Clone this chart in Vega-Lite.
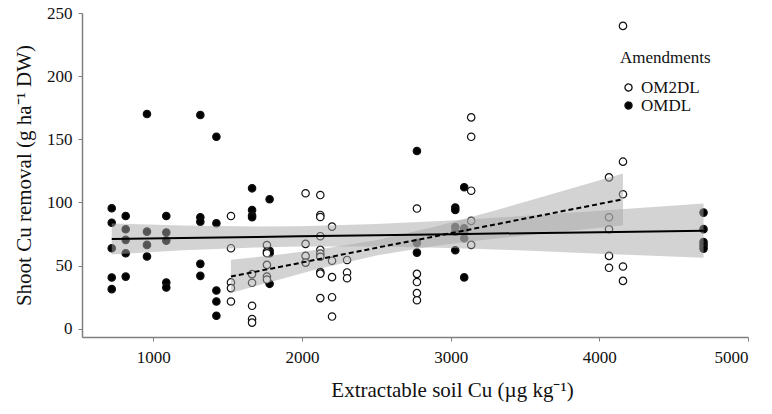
{
  "$schema": "https://vega.github.io/schema/vega-lite/v6.json",
  "width": 666,
  "height": 324,
  "autosize": {"type": "none"},
  "padding": {"left": 82, "top": 13, "right": 24, "bottom": 77},
  "background": "white",
  "config": {
    "view": {"stroke": null},
    "font": "Liberation Serif",
    "axis": {
      "grid": false,
      "domainColor": "#7f7f7f",
      "domainWidth": 1.5,
      "tickColor": "#7f7f7f",
      "tickSize": 4,
      "labelFont": "Liberation Serif",
      "labelFontSize": 17,
      "labelColor": "#111111",
      "titleFont": "Liberation Serif",
      "titleFontSize": 21,
      "titleFontWeight": "normal",
      "titleColor": "#111111"
    },
    "legend": {
      "titleFont": "Liberation Serif",
      "labelFont": "Liberation Serif",
      "titleFontSize": 17,
      "titleFontWeight": "normal",
      "labelFontSize": 17,
      "titleColor": "#111111",
      "labelColor": "#111111"
    }
  },
  "datasets": {
    "points": [
      {"Amendments": "OMDL", "cu": 720, "removal": 95.4},
      {"Amendments": "OMDL", "cu": 720, "removal": 84.0},
      {"Amendments": "OMDL", "cu": 720, "removal": 63.8},
      {"Amendments": "OMDL", "cu": 720, "removal": 40.6},
      {"Amendments": "OMDL", "cu": 720, "removal": 31.4},
      {"Amendments": "OMDL", "cu": 814, "removal": 89.3},
      {"Amendments": "OMDL", "cu": 814, "removal": 78.8},
      {"Amendments": "OMDL", "cu": 814, "removal": 70.4},
      {"Amendments": "OMDL", "cu": 814, "removal": 59.8},
      {"Amendments": "OMDL", "cu": 814, "removal": 41.3},
      {"Amendments": "OMDL", "cu": 957, "removal": 170.0},
      {"Amendments": "OMDL", "cu": 957, "removal": 76.9},
      {"Amendments": "OMDL", "cu": 957, "removal": 66.4},
      {"Amendments": "OMDL", "cu": 957, "removal": 57.2},
      {"Amendments": "OMDL", "cu": 1087, "removal": 89.3},
      {"Amendments": "OMDL", "cu": 1087, "removal": 76.2},
      {"Amendments": "OMDL", "cu": 1087, "removal": 69.8},
      {"Amendments": "OMDL", "cu": 1087, "removal": 36.6},
      {"Amendments": "OMDL", "cu": 1087, "removal": 32.7},
      {"Amendments": "OMDL", "cu": 1316, "removal": 169.2},
      {"Amendments": "OMDL", "cu": 1316, "removal": 88.3},
      {"Amendments": "OMDL", "cu": 1316, "removal": 84.8},
      {"Amendments": "OMDL", "cu": 1316, "removal": 51.4},
      {"Amendments": "OMDL", "cu": 1316, "removal": 41.9},
      {"Amendments": "OMDL", "cu": 1424, "removal": 152.0},
      {"Amendments": "OMDL", "cu": 1424, "removal": 83.5},
      {"Amendments": "OMDL", "cu": 1424, "removal": 30.3},
      {"Amendments": "OMDL", "cu": 1424, "removal": 21.6},
      {"Amendments": "OMDL", "cu": 1424, "removal": 10.3},
      {"Amendments": "OMDL", "cu": 1664, "removal": 111.2},
      {"Amendments": "OMDL", "cu": 1664, "removal": 94.0},
      {"Amendments": "OMDL", "cu": 1664, "removal": 89.6},
      {"Amendments": "OMDL", "cu": 1664, "removal": 88.3},
      {"Amendments": "OMDL", "cu": 1782, "removal": 102.5},
      {"Amendments": "OMDL", "cu": 1782, "removal": 61.7},
      {"Amendments": "OMDL", "cu": 1782, "removal": 59.8},
      {"Amendments": "OMDL", "cu": 1782, "removal": 35.6},
      {"Amendments": "OMDL", "cu": 2773, "removal": 140.7},
      {"Amendments": "OMDL", "cu": 2773, "removal": 68.0},
      {"Amendments": "OMDL", "cu": 2773, "removal": 60.3},
      {"Amendments": "OMDL", "cu": 3031, "removal": 96.0},
      {"Amendments": "OMDL", "cu": 3031, "removal": 94.0},
      {"Amendments": "OMDL", "cu": 3031, "removal": 80.6},
      {"Amendments": "OMDL", "cu": 3031, "removal": 76.9},
      {"Amendments": "OMDL", "cu": 3031, "removal": 62.2},
      {"Amendments": "OMDL", "cu": 3091, "removal": 112.0},
      {"Amendments": "OMDL", "cu": 3091, "removal": 79.6},
      {"Amendments": "OMDL", "cu": 3091, "removal": 77.0},
      {"Amendments": "OMDL", "cu": 3091, "removal": 71.7},
      {"Amendments": "OMDL", "cu": 3091, "removal": 40.7},
      {"Amendments": "OMDL", "cu": 4701, "removal": 92.0},
      {"Amendments": "OMDL", "cu": 4701, "removal": 78.9},
      {"Amendments": "OMDL", "cu": 4701, "removal": 68.6},
      {"Amendments": "OMDL", "cu": 4701, "removal": 66.0},
      {"Amendments": "OMDL", "cu": 4701, "removal": 63.5},
      {"Amendments": "OM2DL", "cu": 1522, "removal": 89.3},
      {"Amendments": "OM2DL", "cu": 1522, "removal": 63.8},
      {"Amendments": "OM2DL", "cu": 1522, "removal": 36.7},
      {"Amendments": "OM2DL", "cu": 1522, "removal": 32.2},
      {"Amendments": "OM2DL", "cu": 1522, "removal": 21.6},
      {"Amendments": "OM2DL", "cu": 1664, "removal": 43.3},
      {"Amendments": "OM2DL", "cu": 1664, "removal": 36.4},
      {"Amendments": "OM2DL", "cu": 1664, "removal": 18.2},
      {"Amendments": "OM2DL", "cu": 1664, "removal": 7.7},
      {"Amendments": "OM2DL", "cu": 1664, "removal": 4.9},
      {"Amendments": "OM2DL", "cu": 1764, "removal": 66.3},
      {"Amendments": "OM2DL", "cu": 1764, "removal": 61.1},
      {"Amendments": "OM2DL", "cu": 1764, "removal": 59.8},
      {"Amendments": "OM2DL", "cu": 1764, "removal": 50.6},
      {"Amendments": "OM2DL", "cu": 1764, "removal": 41.4},
      {"Amendments": "OM2DL", "cu": 1764, "removal": 39.0},
      {"Amendments": "OM2DL", "cu": 2024, "removal": 107.3},
      {"Amendments": "OM2DL", "cu": 2024, "removal": 67.2},
      {"Amendments": "OM2DL", "cu": 2024, "removal": 57.7},
      {"Amendments": "OM2DL", "cu": 2024, "removal": 52.4},
      {"Amendments": "OM2DL", "cu": 2123, "removal": 105.9},
      {"Amendments": "OM2DL", "cu": 2123, "removal": 90.1},
      {"Amendments": "OM2DL", "cu": 2123, "removal": 88.5},
      {"Amendments": "OM2DL", "cu": 2123, "removal": 73.3},
      {"Amendments": "OM2DL", "cu": 2123, "removal": 62.5},
      {"Amendments": "OM2DL", "cu": 2123, "removal": 59.5},
      {"Amendments": "OM2DL", "cu": 2123, "removal": 57.0},
      {"Amendments": "OM2DL", "cu": 2123, "removal": 44.9},
      {"Amendments": "OM2DL", "cu": 2123, "removal": 43.7},
      {"Amendments": "OM2DL", "cu": 2123, "removal": 24.3},
      {"Amendments": "OM2DL", "cu": 2202, "removal": 80.9},
      {"Amendments": "OM2DL", "cu": 2202, "removal": 53.9},
      {"Amendments": "OM2DL", "cu": 2202, "removal": 40.9},
      {"Amendments": "OM2DL", "cu": 2202, "removal": 25.0},
      {"Amendments": "OM2DL", "cu": 2202, "removal": 9.7},
      {"Amendments": "OM2DL", "cu": 2303, "removal": 54.5},
      {"Amendments": "OM2DL", "cu": 2303, "removal": 44.6},
      {"Amendments": "OM2DL", "cu": 2303, "removal": 40.0},
      {"Amendments": "OM2DL", "cu": 2773, "removal": 95.2},
      {"Amendments": "OM2DL", "cu": 2773, "removal": 43.5},
      {"Amendments": "OM2DL", "cu": 2773, "removal": 37.0},
      {"Amendments": "OM2DL", "cu": 2773, "removal": 28.2},
      {"Amendments": "OM2DL", "cu": 2773, "removal": 22.6},
      {"Amendments": "OM2DL", "cu": 3138, "removal": 167.4},
      {"Amendments": "OM2DL", "cu": 3138, "removal": 152.0},
      {"Amendments": "OM2DL", "cu": 3138, "removal": 109.3},
      {"Amendments": "OM2DL", "cu": 3138, "removal": 85.4},
      {"Amendments": "OM2DL", "cu": 3138, "removal": 66.4},
      {"Amendments": "OM2DL", "cu": 4065, "removal": 119.9},
      {"Amendments": "OM2DL", "cu": 4065, "removal": 88.3},
      {"Amendments": "OM2DL", "cu": 4065, "removal": 78.8},
      {"Amendments": "OM2DL", "cu": 4065, "removal": 57.7},
      {"Amendments": "OM2DL", "cu": 4065, "removal": 48.3},
      {"Amendments": "OM2DL", "cu": 4159, "removal": 239.8},
      {"Amendments": "OM2DL", "cu": 4159, "removal": 132.3},
      {"Amendments": "OM2DL", "cu": 4159, "removal": 106.5},
      {"Amendments": "OM2DL", "cu": 4159, "removal": 49.3},
      {"Amendments": "OM2DL", "cu": 4159, "removal": 37.9}
    ],
    "fit": [
      {"Amendments": "OMDL", "cu": 720, "fit": 71.1, "lo": 58.9, "hi": 83.3},
      {"Amendments": "OMDL", "cu": 1200, "fit": 71.9, "lo": 62.1, "hi": 81.7},
      {"Amendments": "OMDL", "cu": 1700, "fit": 72.7, "lo": 64.4, "hi": 81.0},
      {"Amendments": "OMDL", "cu": 1983, "fit": 73.2, "lo": 65.2, "hi": 81.2},
      {"Amendments": "OMDL", "cu": 2500, "fit": 74.1, "lo": 65.2, "hi": 82.9},
      {"Amendments": "OMDL", "cu": 3000, "fit": 74.9, "lo": 64.0, "hi": 85.8},
      {"Amendments": "OMDL", "cu": 3500, "fit": 75.7, "lo": 62.0, "hi": 89.4},
      {"Amendments": "OMDL", "cu": 4000, "fit": 76.5, "lo": 59.5, "hi": 93.5},
      {"Amendments": "OMDL", "cu": 4701, "fit": 77.7, "lo": 56.3, "hi": 99.1},
      {"Amendments": "OM2DL", "cu": 1522, "fit": 41.4, "lo": 28.3, "hi": 54.6},
      {"Amendments": "OM2DL", "cu": 1800, "fit": 47.8, "lo": 37.5, "hi": 58.1},
      {"Amendments": "OM2DL", "cu": 2100, "fit": 54.8, "lo": 47.1, "hi": 62.5},
      {"Amendments": "OM2DL", "cu": 2508, "fit": 64.3, "lo": 58.3, "hi": 70.3},
      {"Amendments": "OM2DL", "cu": 2900, "fit": 73.3, "lo": 65.7, "hi": 80.9},
      {"Amendments": "OM2DL", "cu": 3300, "fit": 82.6, "lo": 71.4, "hi": 93.7},
      {"Amendments": "OM2DL", "cu": 3700, "fit": 91.9, "lo": 76.5, "hi": 107.3},
      {"Amendments": "OM2DL", "cu": 4159, "fit": 102.5, "lo": 82.0, "hi": 123.0}
    ]
  },
  "layer": [
    {
      "data": {"name": "points"},
      "mark": {"type": "point", "shape": "circle", "filled": true, "size": 55, "stroke": "#111111", "strokeWidth": 1.2, "opacity": 1},
      "encoding": {
        "x": {
          "field": "cu", "type": "quantitative",
          "scale": {"domain": [520, 5000], "nice": false, "zero": false},
          "axis": {"values": [1000, 2000, 3000, 4000, 5000], "title": "Extractable soil Cu (µg kg⁻¹)", "titlePadding": 14, "titleX": 370, "labelPadding": 8, "format": "d"}
        },
        "y": {
          "field": "removal", "type": "quantitative",
          "scale": {"domain": [-6.5, 250], "nice": false, "zero": false},
          "axis": {"values": [0, 50, 100, 150, 200, 250], "title": "Shoot Cu removal (g ha⁻¹ DW)", "titlePadding": 12, "labelPadding": 6}
        },
        "fill": {
          "field": "Amendments", "type": "nominal",
          "scale": {"domain": ["OM2DL", "OMDL"], "range": ["white", "black"]},
          "legend": {
            "orient": "none", "legendX": 538, "legendY": 37,
            "title": "Amendments", "titlePadding": 12,
            "symbolType": "circle", "symbolSize": 50,
            "symbolStrokeColor": "#111111", "symbolStrokeWidth": 1.3,
            "symbolOpacity": 1, "symbolDash": [1, 0],
            "rowPadding": 0, "labelOffset": 4
          }
        }
      }
    },
    {
      "data": {"name": "fit"},
      "mark": {"type": "area", "color": "#a8a8a8", "opacity": 0.5},
      "encoding": {
        "x": {"field": "cu", "type": "quantitative"},
        "y": {"field": "lo", "type": "quantitative"},
        "y2": {"field": "hi"},
        "detail": {"field": "Amendments", "type": "nominal"}
      }
    },
    {
      "data": {"name": "fit"},
      "transform": [{"filter": "datum.Amendments === 'OMDL'"}],
      "mark": {"type": "line", "color": "black", "strokeWidth": 2},
      "encoding": {
        "x": {"field": "cu", "type": "quantitative"},
        "y": {"field": "fit", "type": "quantitative"}
      }
    },
    {
      "data": {"name": "fit"},
      "transform": [{"filter": "datum.Amendments === 'OM2DL'"}],
      "mark": {"type": "line", "color": "black", "strokeWidth": 2, "strokeDash": [5, 3]},
      "encoding": {
        "x": {"field": "cu", "type": "quantitative"},
        "y": {"field": "fit", "type": "quantitative"}
      }
    }
  ]
}
